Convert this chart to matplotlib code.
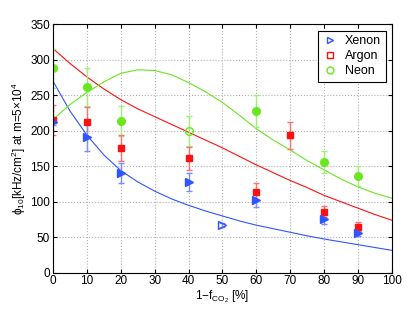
import matplotlib
matplotlib.use("Agg")
import matplotlib.pyplot as plt
import numpy as np

plt.rcParams['font.family'] = ['Liberation Sans', 'DejaVu Sans']
plt.rcParams['mathtext.default'] = 'regular'
plt.rcParams['font.size'] = 8.5

# measured points (x in %, value, error)
xe_x = [0, 10, 20, 40, 60, 80, 90]
xe_y = [213, 191, 141, 128, 102, 75, 56]
xe_e = [5, 19, 14, 13, 9, 6, 4]
xe_open_x = [50]
xe_open_y = [67]
xe_open_e = [3]

ar_x = [0, 10, 20, 40, 60, 70, 80, 90]
ar_y = [215, 212, 176, 161, 114, 194, 86, 65]
ar_e = [21, 21, 18, 16, 12, 19, 8, 6]

ne_x = [0, 10, 20, 60, 80, 90]
ne_y = [288, 262, 214, 228, 156, 136]
ne_e = [28, 27, 21, 23, 16, 14]
ne_open_x = [40]
ne_open_y = [200]
ne_open_e = [21]

# fitted curves
fit_x = list(range(0, 101, 5))
xe_fit = [270, 228, 194, 166, 144, 128, 115, 104, 95, 87, 80, 73, 67, 62, 57, 52, 47.5, 43.5, 39.5, 35.5, 31.5]
ar_fit = [316, 295, 276, 259, 244, 231, 220, 209, 198, 187, 176, 164, 152, 141, 130, 120, 109, 100, 91, 82, 74]
ne_fit = [216, 237, 254, 269, 281, 286, 285, 279, 268, 255, 240, 222, 203, 187, 173, 158, 145, 132, 121, 112, 105]

blue = '#2f55ff'
red = '#ff1010'
green = '#6ae61e'

fig = plt.figure(figsize=(4.09, 3.13), dpi=100)
ax = fig.add_axes([0.1296, 0.1288, 0.8284, 0.7932])

ax.plot(fit_x, xe_fit, color=blue, lw=0.8)
ax.plot(fit_x, ar_fit, color=red, lw=0.8)
ax.plot(fit_x, ne_fit, color=green, lw=0.8)

ax.errorbar(ne_x, ne_y, yerr=ne_e, fmt='o', color=green, ecolor='#9ff07a', ms=5.5, capsize=2, elinewidth=1)
ax.errorbar(ne_open_x, ne_open_y, yerr=ne_open_e, fmt='o', color=green, mfc='none', ecolor='#9ff07a', ms=5.5, capsize=2, elinewidth=1)
ax.errorbar(ar_x, ar_y, yerr=ar_e, fmt='s', color=red, ecolor='#ff7070', ms=4.5, capsize=2, elinewidth=1)
ax.errorbar(xe_x, xe_y, yerr=xe_e, fmt='>', color=blue, ecolor='#7890ff', ms=5.5, capsize=2, elinewidth=1)
ax.errorbar(xe_open_x, xe_open_y, yerr=xe_open_e, fmt='>', color=blue, mfc='none', ecolor='#7890ff', ms=5.5, capsize=2, elinewidth=1)

h1, = ax.plot([], [], '>', color=blue, mfc='none', ms=5)
h2, = ax.plot([], [], 's', color=red, mfc='none', ms=4)
h3, = ax.plot([], [], 'o', color=green, mfc='none', ms=5)
leg = ax.legend([h1, h2, h3], ['Xenon', 'Argon', 'Neon'], loc='upper right', fancybox=False,
                framealpha=1, edgecolor='black', handlelength=1.2, handletextpad=0.6,
                borderpad=0.35, labelspacing=0.25, fontsize=9)
leg.get_frame().set_linewidth(0.8)

ax.set_xlim(0, 100)
ax.set_ylim(0, 350)
ax.set_xticks(range(0, 101, 10))
ax.set_yticks(range(0, 351, 50))
ax.grid(True, linestyle=':', color='#b0b0b0', lw=0.8)
ax.tick_params(direction='in', top=True, right=True, length=3, labelsize=8.5, pad=2)
ax.set_xlabel('1$-$f$_{CO_2}$ [%]', labelpad=1)
ax.set_ylabel(r'$\phi_{10}$[kHz/cm$^2$] at m=5$\times$10$^4$', labelpad=2)

fig.savefig('out.png', dpi=100)
